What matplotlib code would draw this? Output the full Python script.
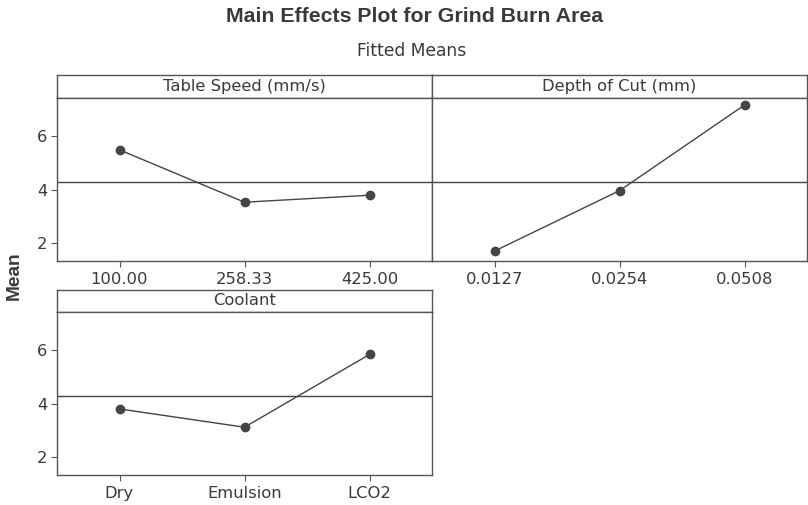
import matplotlib.pyplot as plt

# fitted means
speed_labels = ['100.00', '258.33', '425.00']
speed_means = [5.48, 3.53, 3.79]

depth_labels = ['0.0127', '0.0254', '0.0508']
depth_means = [1.71, 3.96, 7.15]

coolant_labels = ['Dry', 'Emulsion', 'LCO2']
coolant_means = [3.80, 3.12, 5.83]

grand_mean = 4.27
y_ticks = [2, 4, 6]

W, H = 808, 505
line_col = '#444444'
frame_col = '#555555'
text_col = '#3a3a3a'
tick_font = 'DejaVu Sans'

fig = plt.figure(figsize=(W / 100, H / 100), dpi=100)


def px_box(x0, y0, x1, y1):
    # pixel box (top-left origin) -> figure fraction rect
    return [x0 / W, 1 - y1 / H, (x1 - x0) / W, (y1 - y0) / H]


def panel(x0, x1, y_strip, y_top, y_bot, title, labels, means, show_y):
    strip = fig.add_axes(px_box(x0, y_strip, x1, y_top))
    strip.set_xticks([])
    strip.set_yticks([])
    for s in strip.spines.values():
        s.set_color(frame_col)
        s.set_linewidth(1.0)
    strip.text(0.5, 0.5, title, ha='center', va='center', fontsize=11.8,
               family=tick_font, color=text_col, transform=strip.transAxes)

    ax = fig.add_axes(px_box(x0, y_top, x1, y_bot))
    xs = range(len(labels))
    ax.axhline(grand_mean, color=line_col, lw=1.0)
    ax.plot(xs, means, color=line_col, lw=1.0, marker='o', ms=6,
            mfc='#454545', mec='#454545')
    ax.set_xlim(-0.5, 2.5)
    ax.set_ylim(1.34, 7.43)
    ax.set_xticks(list(xs))
    ax.set_xticklabels(labels, fontsize=11.8, family=tick_font, color=text_col)
    ax.set_yticks(y_ticks)
    if show_y:
        ax.set_yticklabels([str(t) for t in y_ticks], fontsize=11.8,
                           family=tick_font, color=text_col)
        ax.tick_params(axis='y', length=4, width=0.8, color=frame_col, pad=3)
    else:
        ax.tick_params(axis='y', length=0, labelleft=False)
    ax.tick_params(axis='x', length=4, width=0.8, color=frame_col, pad=4)
    for s in ax.spines.values():
        s.set_color(frame_col)
        s.set_linewidth(1.0)
    return ax


panel(57, 432, 75, 97.5, 261, 'Table Speed (mm/s)', speed_labels, speed_means, True)
panel(432, 807, 75, 97.5, 261, 'Depth of Cut (mm)', depth_labels, depth_means, False)
panel(57, 432, 290, 311.5, 475, 'Coolant', coolant_labels, coolant_means, True)

fig.text(415 / W, 1 - 16 / H, 'Main Effects Plot for Grind Burn Area',
         ha='center', va='center', fontsize=15.3, fontweight='bold',
         family='Liberation Sans', color=text_col)
fig.text(412 / W, 1 - 51 / H, 'Fitted Means', ha='center', va='center',
         fontsize=12.3, family=tick_font, color=text_col)
fig.text(14 / W, 1 - 276 / H, 'Mean', ha='center', va='center', rotation=90,
         fontsize=13.8, fontweight='bold', family='Liberation Sans', color=text_col)

fig.savefig('out.png', dpi=100)
